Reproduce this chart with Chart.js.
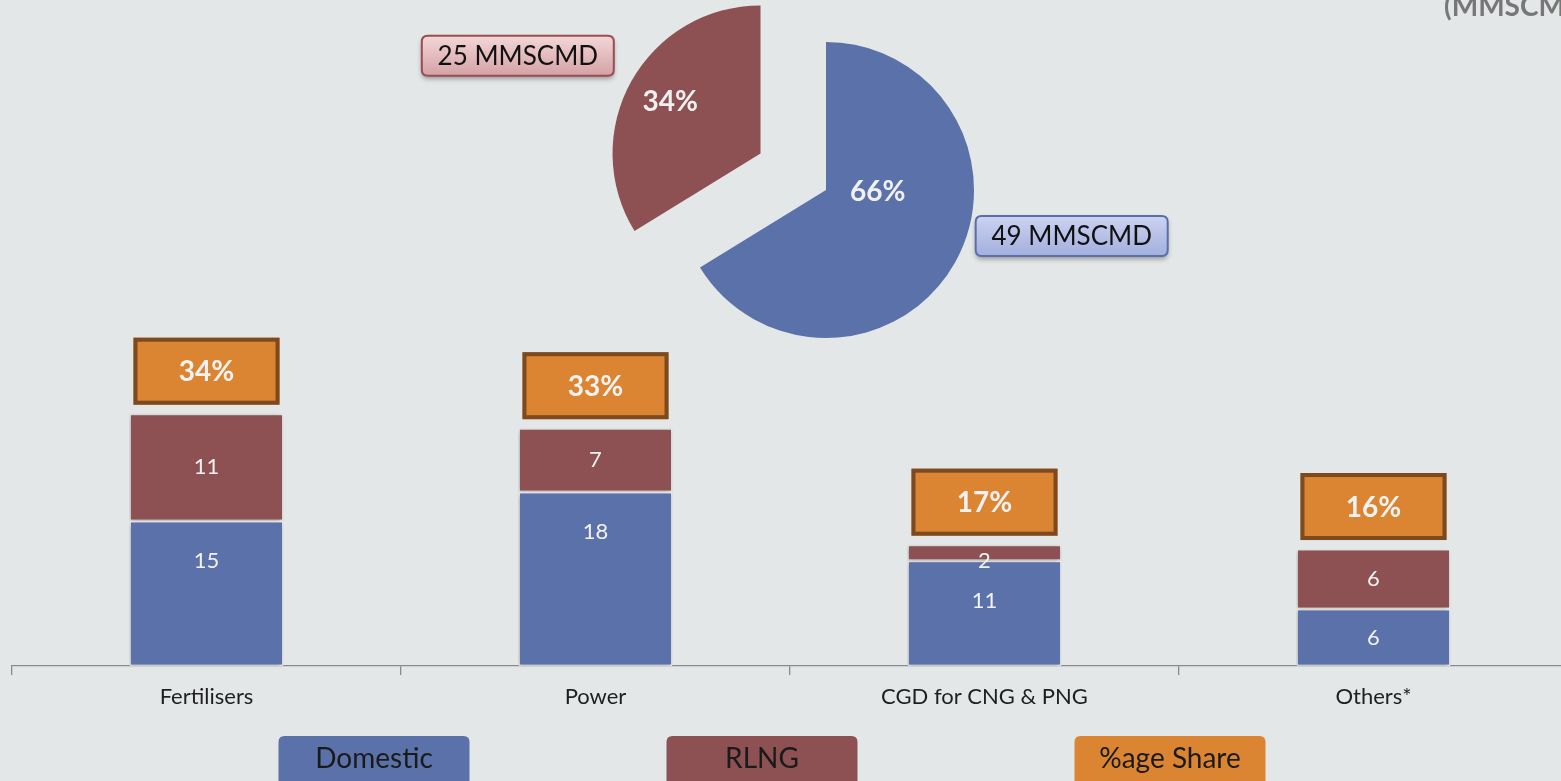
<!DOCTYPE html>
<html>
<head>
<meta charset="utf-8">
<script src="https://cdn.jsdelivr.net/npm/chart.js@4.4.0/dist/chart.umd.min.js"></script>
<style>
  html, body { margin: 0; padding: 0; background: #e3e7e8; overflow: hidden; }
  #wrap { position: relative; width: 1561px; height: 781px; overflow: hidden; }
  #barBox { position: absolute; left: 0; top: 0; width: 1575px; height: 781px; }
  #pieBox { position: absolute; left: 326px; top: 0; width: 1000px; height: 380px; }
</style>
</head>
<body>
<div id="wrap">
  <div id="barBox"><canvas id="bars"></canvas></div>
  <div id="pieBox"><canvas id="pie"></canvas></div>
</div>
<script>
// sector-wise gas consumption, MMSCMD
var categories = ["Fertilisers", "Power", "CGD for CNG & PNG", "Others*"];
var domestic = [15.0, 18.0, 10.9, 5.9];
var rlng = [11.1, 6.6, 1.65, 6.2];
var shareLabels = ["34%", "33%", "17%", "16%"];

var pieLabels = ["Domestic", "RLNG"];
var pieValues = [49, 25];
var pieCallouts = ["49 MMSCMD", "25 MMSCMD"];

var legendNames = ["Domestic", "RLNG", "%age Share"];
var unitTitle = "(MMSCMD)";

var BLUE = "#5b71a9";
var RED = "#8d5053";
var ORANGE = "#db8431";
var FONT = "Lato, 'Open Sans', sans-serif";

Chart.defaults.font.family = FONT;

// soft shadow under the bar segments
var barShadow = {
  id: "barShadow",
  beforeDatasetsDraw: function(chart) {
    var ctx = chart.ctx;
    ctx.save();
    ctx.shadowColor = "rgba(0,0,0,0.28)";
    ctx.shadowBlur = 5;
    ctx.shadowOffsetX = -1;
    ctx.shadowOffsetY = 1;
  },
  afterDatasetsDraw: function(chart) {
    chart.ctx.restore();
  }
};

function roundRect(ctx, x, y, w, h, r) {
  ctx.beginPath();
  ctx.moveTo(x + r, y);
  ctx.lineTo(x + w - r, y);
  ctx.quadraticCurveTo(x + w, y, x + w, y + r);
  ctx.lineTo(x + w, y + h - r);
  ctx.quadraticCurveTo(x + w, y + h, x + w - r, y + h);
  ctx.lineTo(x + r, y + h);
  ctx.quadraticCurveTo(x, y + h, x, y + h - r);
  ctx.lineTo(x, y + r);
  ctx.quadraticCurveTo(x, y, x + r, y);
  ctx.closePath();
}

var barExtras = {
  id: "barExtras",
  afterDraw: function(chart) {
    var ctx = chart.ctx;
    ctx.save();
    ctx.textAlign = "center";
    ctx.textBaseline = "middle";

    // values inside the segments
    ctx.font = "22px " + FONT;
    ctx.fillStyle = "#f2f2f2";
    chart.data.datasets.forEach(function(ds, di) {
      chart.getDatasetMeta(di).data.forEach(function(bar, i) {
        var h = bar.base - bar.y;
        var y = (bar.y + bar.base) / 2;
        if (di === 0) y = bar.y + Math.min(h / 2, 40);
        if (h < 25) y = bar.base;
        ctx.fillText(String(Math.round(ds.data[i])), bar.x, y);
      });
    });

    // %age share boxes over the stacks
    var tops = chart.getDatasetMeta(1).data;
    tops.forEach(function(bar, i) {
      var w = bar.width - 8, h = 67;
      var x = bar.x - w / 2, y = bar.y - 9 - h;
      ctx.fillStyle = ORANGE;
      ctx.fillRect(x, y, w, h);
      ctx.lineWidth = 4;
      ctx.strokeStyle = "#7b4a20";
      ctx.strokeRect(x + 2, y + 2, w - 4, h - 4);
      ctx.fillStyle = "#f2f2f2";
      ctx.font = "bold 28px " + FONT;
      ctx.fillText(shareLabels[i], bar.x, y + h / 2 + 1);
    });

    // legend keys along the bottom
    var legendColors = [BLUE, RED, ORANGE];
    var legendCenters = [374, 762, 1170];
    legendNames.forEach(function(name, i) {
      var w = 191, h = 52, x = legendCenters[i] - w / 2, y = 736;
      ctx.fillStyle = legendColors[i];
      roundRect(ctx, x, y, w, h, 6);
      ctx.fill();
      ctx.fillStyle = "#1a1a1a";
      ctx.font = "28px " + FONT;
      ctx.fillText(name, legendCenters[i], 759);
    });

    // unit note, clipped at the right edge
    ctx.textAlign = "left";
    ctx.textBaseline = "alphabetic";
    ctx.fillStyle = "#777777";
    ctx.font = "bold 28px " + FONT;
    ctx.fillText(unitTitle, 1444, 16);
    ctx.restore();
  }
};

new Chart(document.getElementById("bars"), {
  type: "bar",
  data: {
    labels: categories,
    datasets: [
      { label: "Domestic", data: domestic, backgroundColor: BLUE,
        borderColor: "#e9e9e9", borderWidth: 1.5, borderSkipped: false },
      { label: "RLNG", data: rlng, backgroundColor: RED,
        borderColor: "#e9e9e9", borderWidth: 1.5, borderSkipped: false }
    ]
  },
  options: {
    responsive: true,
    maintainAspectRatio: false,
    animation: false,
    events: [],
    layout: { padding: { left: 12, right: 7, top: 86, bottom: 0 } },
    categoryPercentage: 1,
    barPercentage: 0.396,
    plugins: { legend: { display: false }, tooltip: { enabled: false } },
    scales: {
      x: {
        stacked: true,
        afterFit: function(scale) { scale.height = 115; },
        grid: { display: true, drawOnChartArea: false, drawTicks: true,
                tickLength: 9, color: "#8a8a8a", lineWidth: 1.3 },
        border: { display: true, color: "#8a8a8a", width: 1.3 },
        ticks: { color: "#1f1f1f", font: { size: 22 }, padding: 9 }
      },
      y: { stacked: true, display: false, min: 0, max: 60 }
    }
  },
  plugins: [barShadow, barExtras]
});

// exploded pie: each slice pushed out along its mid angle
var explode = [0, 75];
var pctPos = [[0.35, 0.01], [-0.61, -0.35]];
var calloutPos = [[1.66, 0.31], [-1.64, -0.66]];
var calloutFill = [["#cbd3f0", "#a3afde"], ["#f3d6d6", "#d4a2a5"]];
var calloutLine = ["#5a6ea8", "#9b4d51"];

var pieExplode = {
  id: "pieExplode",
  beforeDatasetDraw: function(chart, args) {
    var ctx = chart.ctx;
    args.meta.data.forEach(function(arc, i) {
      var mid = (arc.startAngle + arc.endAngle) / 2;
      ctx.save();
      ctx.translate(Math.cos(mid) * explode[i], Math.sin(mid) * explode[i]);
      arc.draw(ctx);
      ctx.restore();
    });
    return false;
  },
  afterDraw: function(chart) {
    var ctx = chart.ctx;
    var total = pieValues.reduce(function(a, b) { return a + b; }, 0);
    ctx.save();
    ctx.textAlign = "center";
    ctx.textBaseline = "middle";
    chart.getDatasetMeta(0).data.forEach(function(arc, i) {
      var mid = (arc.startAngle + arc.endAngle) / 2;
      var cx = arc.x + Math.cos(mid) * explode[i];
      var cy = arc.y + Math.sin(mid) * explode[i];
      var r = arc.outerRadius;

      ctx.fillStyle = "#f0f0f0";
      ctx.font = "bold 28px " + FONT;
      ctx.fillText(Math.round(pieValues[i] / total * 100) + "%",
        cx + pctPos[i][0] * r, cy + pctPos[i][1] * r);

      var bx = cx + calloutPos[i][0] * r, by = cy + calloutPos[i][1] * r;
      var w = 192, h = 40;
      ctx.save();
      ctx.shadowColor = "rgba(0,0,0,0.35)";
      ctx.shadowBlur = 5;
      ctx.shadowOffsetY = 3;
      var g = ctx.createLinearGradient(0, by - h / 2, 0, by + h / 2);
      g.addColorStop(0, calloutFill[i][0]);
      g.addColorStop(1, calloutFill[i][1]);
      ctx.fillStyle = g;
      roundRect(ctx, bx - w / 2, by - h / 2, w, h, 6);
      ctx.fill();
      ctx.restore();
      ctx.lineWidth = 2;
      ctx.strokeStyle = calloutLine[i];
      roundRect(ctx, bx - w / 2, by - h / 2, w, h, 6);
      ctx.stroke();
      ctx.fillStyle = "#111111";
      ctx.font = "26px " + FONT;
      ctx.fillText(pieCallouts[i], bx, by + 1);
    });
    ctx.restore();
  }
};

new Chart(document.getElementById("pie"), {
  type: "pie",
  data: {
    labels: pieLabels,
    datasets: [{ data: pieValues, backgroundColor: [BLUE, RED], borderWidth: 0, radius: 148 }]
  },
  options: {
    responsive: true,
    maintainAspectRatio: false,
    animation: false,
    events: [],
    layout: { padding: 0 },
    plugins: { legend: { display: false }, tooltip: { enabled: false } }
  },
  plugins: [pieExplode]
});
</script>
</body>
</html>
